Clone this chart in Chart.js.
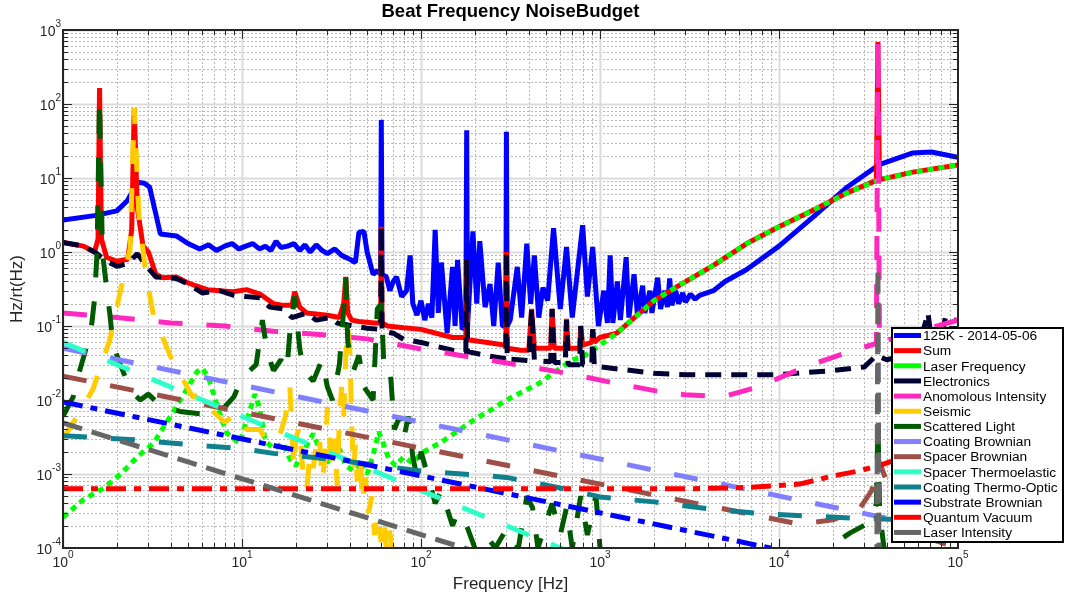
<!DOCTYPE html>
<html>
<head>
<meta charset="utf-8">
<title>Beat Frequency NoiseBudget</title>
<script src="https://cdn.jsdelivr.net/npm/chart.js@4.4.1/dist/chart.umd.min.js"></script>
<style>
    html, body { margin: 0; padding: 0; background: #fff; }
    #wrap { width: 1065px; height: 598px; }
</style>
</head>
<body>
<div id="wrap"><canvas id="chart" width="1065" height="598"></canvas></div>
<script>
// --------- Données : [fréquence Hz, Hz/rt(Hz)] -----------------------------
const seriesNames = [
    "125K - 2014-05-06", "Sum", "Laser Frequency", "Electronics", "Anomolous Intensity",
    "Seismic", "Scattered Light", "Coating Brownian", "Spacer Brownian", "Spacer Thermoelastic",
    "Coating Thermo-Optic", "Substrate Brownian", "Quantum Vacuum", "Laser Intensity"
];

const refData = [
    [1,2.7],[1.5,3.1],[2,3.6],[2.3,5],[2.6,8.8],[2.85,8.5],[3.05,7.5],[3.5,1.75],[4.3,1.65],[5,1.3],
    [5.8,1.1],[6.5,1.25],[7.2,1.05],[8,1.2],[8.8,1.3],[9.6,1.1],[10.5,1.2],[11.5,1.3],[12.5,1.1],[13.5,1.2],
    [14.5,1.05],[15.5,1.4],[16.5,1.15],[18,1.2],[19.5,1.3],[21,1.05],[22.5,1.25],[24,1.0],[26,1.25],[28,1.05],
    [30,0.95],[33,1.1],[36,0.9],[40,0.8],[43,0.72],[45,1.85],[48,1.9],[50,1.0],[54,0.5],[57,0.56],
    [59.5,0.5],[60,61],[60.6,0.5],[64,0.46],[67,0.3],[70,0.4],[73,0.46],[78,0.25],[83,0.3],[87,0.9],
    [90,0.2],[95,0.14],[100,0.22],[105,0.12],[110,0.2],[115,0.13],[120,2.0],[125,0.15],[130,0.72],[140,0.08],
    [150,0.63],[155,0.1],[160,0.78],[170,0.09],[178,0.1],[180,44],[182,0.1],[195,1.9],[205,0.2],[213,1.4],
    [228,0.18],[243,0.37],[255,0.1],[270,0.72],[285,0.1],[298,0.1],[300,42],[303,0.1],[315,0.12],[345,0.63],
    [365,0.13],[390,1.3],[410,0.2],[430,0.9],[455,0.13],[480,0.33],[510,0.22],[550,2.1],[600,0.17],[650,1.17],
    [700,0.13],[800,2.3],[850,0.25],[910,1.17],[980,0.1],[1050,0.3],[1100,0.11],[1140,0.9],[1180,0.11],[1250,0.4],
    [1300,0.12],[1400,0.85],[1450,0.13],[1550,0.5],[1620,0.14],[1730,0.35],[1780,0.15],[1900,0.3],[1950,0.15],[2100,0.45],
    [2180,0.17],[2300,0.3],[2380,0.18],[2450,0.44],[2520,0.19],[2650,0.3],[2750,0.2],[2900,0.28],[3000,0.21],[3200,0.27],
    [3400,0.23],[3600,0.26],[4300,0.3],[5000,0.4],[6600,0.58],[1e4,1.2],[1.56e4,3],[2.4e4,7.5],[3.6e4,15],[5.6e4,21.8],
    [7.1e4,22.5],[1e5,19]
];

const sumData = [
    [1,1.35],[1.3,1.2],[1.5,1.0],[1.57,1.5],[1.6,164],[1.64,1.5],[1.75,0.85],[2.0,0.75],[2.3,0.8],[2.42,2],
    [2.5,88],[2.6,4],[2.8,1.2],[3.0,1.0],[3.3,0.5],[3.6,0.45],[4.3,0.46],[4.9,0.39],[5.5,0.35],[6.4,0.31],
    [7.5,0.3],[8.9,0.29],[10.6,0.31],[12.6,0.27],[15,0.2],[17,0.19],[19,0.19],[19.7,0.29],[21,0.18],[23,0.15],
    [30,0.14],[35,0.13],[37,0.2],[38,0.46],[39,0.15],[41,0.12],[45,0.115],[55,0.11],[59.5,0.11],[60,2.2],
    [60.6,0.11],[65,0.1],[80,0.095],[100,0.09],[150,0.07],[178,0.07],[180,0.78],[182,0.065],[235,0.06],[298,0.055],
    [300,1.0],[303,0.05],[360,0.047],[400,0.047],[415,0.17],[430,0.05],[530,0.05],[540,0.17],[555,0.05],[640,0.05],
    [650,0.125],[665,0.05],[770,0.05],[780,0.1],[800,0.055],[900,0.06],[910,0.09],[930,0.06],[1000,0.07],[1240,0.08],
    [2000,0.22],[2800,0.36],[4300,0.66],[6600,1.3],[1e4,2.2],[1.56e4,3.7],[2.4e4,6.3],[3.5e4,9.3],[3.57e4,690],[3.64e4,9.5],
    [5.6e4,12],[1e5,15]
];

const laserFreqData = [
    [1,2.6e-4],[1.3,4.5e-4],[1.7,6.5e-4],[2.1,1e-3],[2.6,1.7e-3],[3.2,2.6e-3],[4.1,6.7e-3],[5,0.015],[5.6,0.024],[6,0.027],
    [6.5,0.02],[7.2,0.009],[8.2,0.0036],[9.7,0.0026],[10.8,0.006],[11.8,0.012],[12.5,0.008],[13.5,0.0028],[15,0.0022],[17,0.0026],
    [18.5,0.0016],[20,0.0013],[22,0.002],[25,0.0035],[28,0.0018],[31,0.0014],[35,0.0022],[38,0.0013],[42,0.0011],[46,0.0015],
    [50,0.001],[54,0.0018],[58,0.0037],[62,0.0025],[66,0.0016],[72,0.0013],[80,0.0017],[90,0.0014],[100,0.0019],[130,0.0027],
    [200,0.0055],[245,0.0073],[300,0.01],[460,0.017],[700,0.035],[800,0.038],[1000,0.055],[1240,0.08],[2000,0.22],[2800,0.36],
    [4300,0.66],[6600,1.3],[1e4,2.2],[1.56e4,3.7],[2.4e4,6.3],[3.6e4,9.4],[5.6e4,12],[1e5,15]
];

const electronicsData = [
    [1,1.35],[1.3,1.2],[1.5,1.0],[1.75,0.75],[2.0,0.64],[2.3,0.7],[2.6,0.95],[2.8,0.75],[3.0,0.6],[3.3,0.46],
    [4.3,0.44],[5,0.37],[6,0.28],[7.5,0.3],[9,0.26],[10.5,0.25],[12.6,0.24],[14.3,0.18],[17,0.17],[19,0.13],
    [23,0.15],[26,0.12],[31,0.13],[34,0.11],[42,0.1],[50,0.093],[59.5,0.09],[60,2.2],[60.6,0.085],[70,0.08],
    [80,0.066],[100,0.06],[150,0.047],[178,0.045],[180,0.78],[182,0.045],[230,0.04],[298,0.036],[300,1.0],[303,0.036],
    [400,0.034],[415,0.17],[430,0.034],[530,0.033],[540,0.17],[555,0.032],[640,0.032],[650,0.12],[665,0.03],[770,0.03],
    [780,0.1],[800,0.03],[900,0.03],[910,0.09],[930,0.028],[1000,0.028],[1500,0.025],[2000,0.023],[3000,0.022],[5000,0.022],
    [1e4,0.022],[2e4,0.025],[3e4,0.028],[3.5e4,0.04],[4e4,0.035],[5e4,0.04],[6e4,0.05],[6.8e4,0.15],[7.2e4,0.05],[8e4,0.06],
    [8.5e4,0.13],[9e4,0.12],[1e5,0.12]
];

const anomIntensityData = [
    [1,0.15],[2,0.13],[4,0.11],[8,0.1],[15,0.085],[27,0.077],[50,0.067],[95,0.05],[345,0.03],[650,0.023],
    [1200,0.017],[2150,0.013],[3000,0.0118],[4200,0.0113],[5200,0.0116],[7500,0.0148],[1.4e4,0.028],[2.6e4,0.047],[3.5e4,0.058],[3.57e4,690],
    [3.64e4,0.06],[5e4,0.075],[1e5,0.12]
];

const seismicData = [
    [1,0.003],[1.2,0.006],[1.47,0.014],[1.83,0.066],[2.08,0.28],[2.37,1.1],[2.5,88],[2.65,3.4],[2.9,0.5],[3.2,0.14],
    [4,0.038],[5.3,0.011],[5.8,0.012],[6.5,0.008],[8,0.005],[9.4,0.0066],[10.6,0.004],[12.6,0.004],[13.8,0.0027],[16,0.003],
    [17.5,0.006],[18.5,0.015],[19,0.004],[19.5,0.0012],[20,0.003],[21,0.0045],[22,0.0009],[23,0.0006],[24,0.002],[25,0.0012],
    [26,0.0025],[27,0.0035],[28,0.0008],[29,0.0015],[30,0.008],[31,0.0025],[32,0.0011],[33,0.003],[34,0.0007],[35,0.0055],
    [36,0.015],[37,0.006],[38,0.04],[39,0.1],[40,0.05],[41,0.005],[42,0.0011],[43,0.0025],[44,0.0008],[46,0.0018],
    [47,0.0004],[49,0.0009],[51,0.0003],[53,0.0005],[55,0.00015],[57,0.0003],[60,0.00012],[62,0.00025],[64,0.0001],[66,0.0002],
    [70,0.00008]
];

const scatteredData = [
    [1,0.006],[1.14,0.011],[1.24,0.025],[1.33,0.045],[1.45,0.11],[1.5,0.23],[1.55,1.0],[1.6,113],[1.66,1.0],[1.76,0.3],
    [1.83,0.14],[1.9,0.058],[2.03,0.036],[2.4,0.013],[2.7,0.01],[3.0,0.012],[3.4,0.009],[3.8,0.008],[4.5,0.007],[5.8,0.0065],
    [6.6,0.0065],[8,0.008],[9,0.011],[10,0.02],[12,0.03],[13,0.12],[13.8,0.045],[15,0.025],[16.5,0.035],[17.8,0.025],
    [18.5,0.08],[19.7,0.25],[21,0.05],[22,0.026],[25,0.018],[28,0.035],[30,0.015],[32,0.01],[35,0.03],[37,0.17],
    [38,0.45],[39,0.06],[42,0.025],[45,0.04],[48,0.015],[54,0.01],[57,0.17],[60,0.2],[62,0.03],[67,0.03],
    [71,0.004],[76,0.006],[80,0.003],[85,0.006],[90,0.0017],[95,0.0009],[100,0.002],[110,0.0009],[120,0.0004],[130,0.0006],
    [150,0.0002],[160,0.0003],[180,0.0002],[200,0.0001],[230,0.00015],[260,0.0001],[300,0.00018],[350,0.0001],[390,0.0005],[420,0.00035],
    [450,0.0001],[540,0.0004],[600,0.00015],[650,0.00035],[700,0.0001],[780,0.0005],[850,0.00015],[950,0.0005],[1000,0.0001],[1100,0.00005],
    [1.8e4,0.00005],[2.2e4,0.00013],[2.5e4,0.00016],[3.3e4,0.00023],[3.5e4,0.0004],[3.57e4,0.005],[3.65e4,0.0003],[4e4,0.00005]
];

const coatingBrownData   = [[1,0.05],[1e5,1.6e-4]];
const spacerBrownData    = [[1,0.021],[1.3e4,2.1e-4],[2e4,2.4e-4],[2.8e4,3.3e-4],[3.3e4,6e-4],[3.57e4,0.0016],[3.8e4,0.0011],[4.2e4,5.6e-4],[6e4,1.5e-4],[1e5,1e-4]];
const spacerThermoData   = [[1,0.06],[1000,6e-5]];
const coatingThermoData  = [[1,0.0033],[2.5,0.0029],[5,0.0025],[10,0.0022],[15,0.0019],[30,0.0016],[100,0.0011],[300,9e-4],[700,6e-4],[1000,4.9e-4],
                            [2000,4.2e-4],[4000,3.4e-4],[8000,2.9e-4],[1.5e4,2.7e-4],[3e4,2.5e-4],[1e5,2.3e-4]];
const substrateBrownData = [[1,0.0094],[1e5,3e-5]];
const quantumVacData     = [[1,6.3e-4],[3000,6.3e-4],[7000,6.6e-4],[1.3e4,7.3e-4],[2e4,9.4e-4],[2.8e4,1.1e-3],[3.8e4,1.35e-3],[6e4,2e-3],[1e5,3e-3]];
const laserIntData       = [[1,0.0049],[200,9e-5],[3.5e4,1e-6],[3.57e4,0.6],[3.64e4,1e-6]];

const allData = [refData, sumData, laserFreqData, electronicsData, anomIntensityData, seismicData, scatteredData,
    coatingBrownData, spacerBrownData, spacerThermoData, coatingThermoData, substrateBrownData, quantumVacData, laserIntData];

const seriesColors = ["#0000ff", "#ff0000", "#00ff00", "#000033", "#ff29be", "#ffcc00", "#005a00",
    "#8080ff", "#9e5048", "#2effc8", "#10808f", "#0000ff", "#ff0000", "#666666"];
const seriesDash = [[], [], [6, 5], [16, 10], [24, 24], [24, 24], [24, 24],
    [24, 24], [24, 24], [24, 24], [24, 24], [20, 8, 7, 8], [20, 8, 7, 8], [20, 10]];

const xTickExp = [0, 1, 2, 3, 4, 5];
const yTickExp = [-4, -3, -2, -1, 0, 1, 2, 3];

// --------- Style commun ----------
const FONT = '"Liberation Sans", Arial, Helvetica, sans-serif';
const TXT = "#262626";

function gridValues(exps) {
    const out = [];
    exps.forEach((e, i) => {
        if (i === exps.length - 1) { out.push({ v: Math.pow(10, e), major: true }); return; }
        for (let m = 1; m < 10; m++) out.push({ v: m * Math.pow(10, e), major: m === 1 });
    });
    return out;
}

function drawPow(ctx, exp, x, y, mode) {
    ctx.font = "14px " + FONT;
    const bw = ctx.measureText("10").width;
    ctx.font = "10px " + FONT;
    const sup = String(exp);
    const sw = ctx.measureText(sup).width;
    const start = mode === "x" ? x - (bw + sw) / 2 : x - (bw + sw);
    ctx.fillStyle = TXT;
    ctx.textAlign = "left";
    ctx.textBaseline = "middle";
    ctx.font = "14px " + FONT;
    ctx.fillText("10", start, y);
    ctx.font = "10px " + FONT;
    ctx.fillText(sup, start + bw, y - 8);
}

// --------- Grille (sous les courbes), boîte, textes et légende ----------
const gridPlugin = {
    id: "matlabGrid",
    beforeDatasetsDraw(chart) {
        const { ctx, chartArea: a, scales: { x, y } } = chart;
        ctx.save();
        ctx.beginPath();
        ctx.rect(a.left, a.top, a.right - a.left, a.bottom - a.top);
        ctx.clip();
        [false, true].forEach(majorPass => {
            ctx.strokeStyle = majorPass ? "#dcdcdc" : "#b8b8b8";
            ctx.lineWidth = majorPass ? 2 : 1;
            ctx.setLineDash(majorPass ? [] : [2, 2]);
            gridValues(xTickExp).filter(t => t.major === majorPass).forEach(t => {
                const px = Math.round(x.getPixelForValue(t.v)) + 0.5;
                ctx.beginPath(); ctx.moveTo(px, a.top); ctx.lineTo(px, a.bottom); ctx.stroke();
            });
            gridValues(yTickExp).filter(t => t.major === majorPass).forEach(t => {
                const py = Math.round(y.getPixelForValue(t.v)) + 0.5;
                ctx.beginPath(); ctx.moveTo(a.left, py); ctx.lineTo(a.right, py); ctx.stroke();
            });
        });
        ctx.restore();
    },
    afterDraw(chart) {
        const { ctx, chartArea: a, scales: { x, y } } = chart;
        ctx.save();
        ctx.setLineDash([]);

        // boîte + graduations vers l'intérieur
        ctx.strokeStyle = TXT;
        ctx.lineWidth = 1;
        gridValues(xTickExp).forEach(t => {
            const px = Math.round(x.getPixelForValue(t.v)) + 0.5;
            const len = t.major ? 9 : 5;
            ctx.beginPath();
            ctx.moveTo(px, a.bottom); ctx.lineTo(px, a.bottom - len);
            ctx.moveTo(px, a.top); ctx.lineTo(px, a.top + len);
            ctx.stroke();
        });
        gridValues(yTickExp).forEach(t => {
            const py = Math.round(y.getPixelForValue(t.v)) + 0.5;
            const len = t.major ? 9 : 5;
            ctx.beginPath();
            ctx.moveTo(a.left, py); ctx.lineTo(a.left + len, py);
            ctx.moveTo(a.right, py); ctx.lineTo(a.right - len, py);
            ctx.stroke();
        });
        ctx.lineWidth = 2;
        ctx.strokeRect(a.left, a.top, a.right - a.left, a.bottom - a.top);

        // étiquettes 10^n
        xTickExp.forEach(e => drawPow(ctx, e, x.getPixelForValue(Math.pow(10, e)), a.bottom + 15, "x"));
        yTickExp.forEach(e => drawPow(ctx, e, a.left - 2, y.getPixelForValue(Math.pow(10, e)) + 2, "y"));

        // titres
        ctx.fillStyle = "#000";
        ctx.textAlign = "center";
        ctx.textBaseline = "middle";
        ctx.font = "bold 18.5px " + FONT;
        ctx.fillText("Beat Frequency NoiseBudget", (a.left + a.right) / 2, 12);
        ctx.fillStyle = TXT;
        ctx.font = "17px " + FONT;
        ctx.fillText("Frequency [Hz]", (a.left + a.right) / 2, 584);
        ctx.save();
        ctx.translate(17, (a.top + a.bottom) / 2);
        ctx.rotate(-Math.PI / 2);
        ctx.fillText("Hz/rt(Hz)", 0, 0);
        ctx.restore();

        // légende
        const lx = 892, ly = 328, lw = 171, lh = 214;
        ctx.fillStyle = "#fff";
        ctx.fillRect(lx, ly, lw, lh);
        ctx.strokeStyle = "#000";
        ctx.lineWidth = 2;
        ctx.strokeRect(lx, ly, lw, lh);
        ctx.font = "13.7px " + FONT;
        ctx.textAlign = "left";
        seriesNames.forEach((name, i) => {
            const yy = ly + 7.5 + i * 15.15;
            ctx.strokeStyle = seriesColors[i];
            ctx.lineWidth = 5;
            ctx.beginPath(); ctx.moveTo(lx + 2, yy); ctx.lineTo(lx + 29, yy); ctx.stroke();
            ctx.fillStyle = "#000";
            ctx.fillText(name, lx + 31, yy + 1);
        });
        ctx.restore();
    }
};

// --------- Graphique ----------
function buildDatasets() {
    return allData.map((pts, i) => ({
        label: seriesNames[i],
        data: pts.map(p => ({ x: p[0], y: p[1] })),
        borderColor: seriesColors[i],
        backgroundColor: seriesColors[i],
        borderWidth: 5,
        borderDash: seriesDash[i],
        borderJoinStyle: "bevel",
        pointRadius: 0,
        tension: 0,
        fill: false,
        clip: 0,
        order: allData.length - i
    }));
}

document.addEventListener("DOMContentLoaded", () => {
    const ctx = document.getElementById("chart").getContext("2d");
    new Chart(ctx, {
        type: "line",
        data: { datasets: buildDatasets() },
        options: {
            responsive: false,
            animation: false,
            devicePixelRatio: 1,
            layout: { padding: { left: 63, right: 107, top: 30, bottom: 50 } },
            plugins: { legend: { display: false }, tooltip: { enabled: false }, title: { display: false } },
            scales: {
                x: { type: "logarithmic", min: 1, max: 1e5, display: false },
                y: { type: "logarithmic", min: 1e-4, max: 1e3, display: false }
            }
        },
        plugins: [gridPlugin]
    });
});
</script>
</body>
</html>
